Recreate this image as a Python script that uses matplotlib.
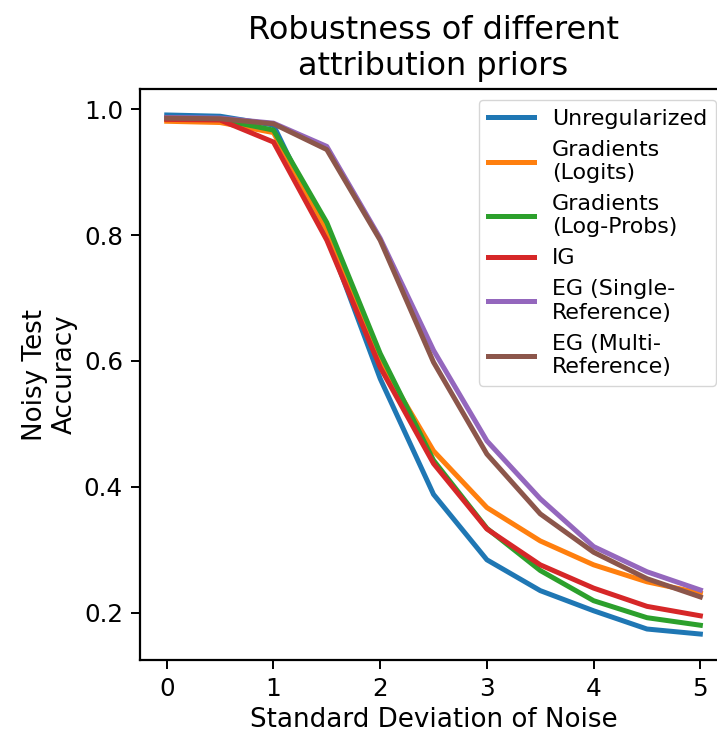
import numpy as np
import matplotlib
matplotlib.use("Agg")
import matplotlib.pyplot as plt

# noise levels (std dev) and test accuracy per attribution prior
noise_std = [0, 0.5, 1, 1.5, 2, 2.5, 3, 3.5, 4, 4.5, 5]
unregularized = [0.991, 0.989, 0.975, 0.800, 0.572, 0.388, 0.284, 0.235, 0.203, 0.174, 0.166]
grad_logits = [0.981, 0.979, 0.963, 0.808, 0.600, 0.457, 0.367, 0.314, 0.276, 0.249, 0.231]
grad_logprobs = [0.985, 0.984, 0.967, 0.820, 0.612, 0.442, 0.334, 0.267, 0.219, 0.192, 0.180]
ig = [0.984, 0.983, 0.948, 0.792, 0.590, 0.437, 0.333, 0.276, 0.239, 0.210, 0.195]
eg_single = [0.987, 0.986, 0.978, 0.941, 0.795, 0.617, 0.473, 0.381, 0.305, 0.265, 0.236]
eg_multi = [0.986, 0.985, 0.977, 0.936, 0.792, 0.598, 0.452, 0.357, 0.296, 0.254, 0.225]

series = [
    ("Unregularized", unregularized),
    ("Gradients\n(Logits)", grad_logits),
    ("Gradients\n(Log-Probs)", grad_logprobs),
    ("IG", ig),
    ("EG (Single-\nReference)", eg_single),
    ("EG (Multi-\nReference)", eg_multi),
]

fig = plt.figure(figsize=(7.17, 7.40), dpi=100)
ax = fig.add_axes([0.1953, 0.1081, 0.8187, 0.7716])

for name, vals in series:
    ax.plot(noise_std, vals, lw=3.6, label=name)

ax.set_title("Robustness of different\nattribution priors", fontsize=23, pad=10)
ax.set_xlabel("Standard Deviation of Noise", fontsize=18.8)
ax.set_ylabel("Noisy Test\nAccuracy", fontsize=18.8)
ax.set_yticks([0.2, 0.4, 0.6, 0.8, 1.0])
ax.tick_params(labelsize=17.7, length=6.3, width=1.4, pad=6)
for s in ax.spines.values():
    s.set_linewidth(1.6)

ax.legend(loc="upper right", fontsize=15.9, handlelength=2.1)

fig.savefig("out.png", dpi=100)
